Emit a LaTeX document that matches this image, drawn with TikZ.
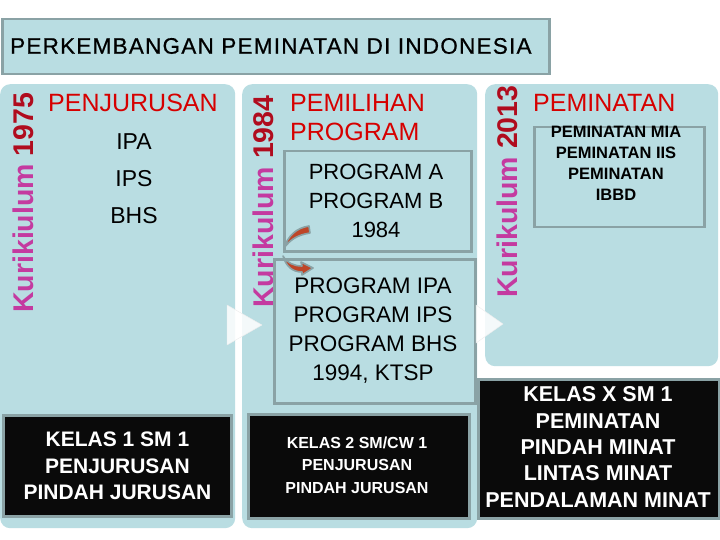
\documentclass[tikz,border=0pt]{standalone}
\usepackage{fontspec}
\setmainfont{Liberation Sans}
\usetikzlibrary{arrows.meta,shapes.geometric}
\definecolor{pblue}{RGB}{185,221,226}
\definecolor{bgray}{RGB}{138,162,165}
\definecolor{hred}{RGB}{214,0,0}
\definecolor{kmag}{RGB}{196,58,160}
\definecolor{kred}{RGB}{176,12,30}
\definecolor{arrred}{RGB}{190,70,40}
\tikzset{
  panel/.style={fill=pblue, draw=none, rounded corners=10pt, anchor=north west, inner sep=0pt},
  box/.style={fill=pblue, draw=bgray, line width=2.5pt, anchor=north west, inner sep=0pt},
  blk/.style={fill=black!96, draw=bgray, line width=3pt, anchor=north west, inner sep=0pt},
  head/.style={text=hred, font=\fontsize{25}{29}\selectfont, inner sep=0pt, align=left},
  body/.style={text=black, font=\fontsize{23}{29}\selectfont, inner sep=0pt, align=center},
  whitetxt/.style={text=white, font=\bfseries\fontsize{21}{26.5}\selectfont, inner sep=0pt, align=center},
  kur/.style={rotate=90, anchor=base west, inner sep=0pt, font=\bfseries\fontsize{28.5}{30}\selectfont},
  tri/.style={fill=white, fill opacity=0.85, draw=white!85!gray, line width=0.4pt},
  curv/.style={fill=arrred, draw=bgray, line width=1.6pt, line join=round}
}
\begin{document}
\begin{tikzpicture}[x=1pt,y=-1pt]
\useasboundingbox[fill=white] (0,0) rectangle (720,540);

% title
\node[box, minimum width=547, minimum height=55] (title) at (1,18) {};
\node[inner sep=0pt, font=\fontsize{22.5}{26}\selectfont\addfontfeatures{LetterSpace=5.5,FakeBold=0.6}, anchor=west] (titletxt) at (10,46) {PERKEMBANGAN PEMINATAN DI INDONESIA};

% panels
\node[panel, minimum width=235, minimum height=444] (p1) at (0,84) {};
\node[panel, minimum width=235, minimum height=444] (p2) at (242,84) {};
\node[panel, minimum width=233, minimum height=282] (p3) at (485,84) {};

% vertical labels
\node[kur] (k1) at (33,313) {\textcolor{kmag}{Kurikiulum }\textcolor{kred}{1975}};
\node[kur] (k2) at (273,308) {\textcolor{kmag}{Kurikulum }\textcolor{kred}{1984}};
\node[kur] (k3) at (517,298) {\textcolor{kmag}{Kurikulum }\textcolor{kred}{2013}};

% panel 1 content
\node[head, anchor=north west] (h1) at (48,94) {PENJURUSAN};
\node[body] (ipa) at (134,142) {IPA};
\node[body] (ips) at (134,179) {IPS};
\node[body] (bhs) at (134,216) {BHS};
\node[blk, minimum width=228, minimum height=101] (b1) at (2,414) {};
\node[whitetxt] (b1t) at (b1.center) {KELAS 1 SM 1\\PENJURUSAN\\PINDAH JURUSAN};

% panel 2 content
\node[head, anchor=north west] (h2) at (290,94) {PEMILIHAN\\PROGRAM};
\node[box, minimum width=187, minimum height=100] (bA) at (283,150) {};
\node[body, font=\fontsize{22}{29}\selectfont] (bAt) at (376,201) {PROGRAM A\\PROGRAM B\\1984};
\node[box, minimum width=201, minimum height=144] (bB) at (273,258) {};
\node[body, font=\fontsize{22.5}{29}\selectfont] (bBt) at (373,331) {PROGRAM IPA\\PROGRAM IPS\\PROGRAM BHS\\1994, KTSP};
\node[blk, minimum width=221, minimum height=104] (b2) at (247,413) {};
\node[whitetxt, font=\bfseries\fontsize{16}{22.5}\selectfont] (b2t) at (357,465) {KELAS 2 SM/CW 1\\PENJURUSAN\\PINDAH JURUSAN};

% curved arrows between box A and box B
\path[curv] (309,226) .. controls (296,228) and (288,236) .. (284,248)
            .. controls (290,240) and (297,235) .. (310,233) -- cycle;
\path[curv] (283,256) .. controls (287,263) and (294,266) .. (302,266)
            -- (301,262) -- (313,268) -- (302,275) -- (302,272)
            .. controls (292,272) and (286,266) .. (283,256) -- cycle;

% panel 3 content
\node[head, anchor=north west] (h3) at (533,94) {PEMINATAN};
\node[box, minimum width=170, minimum height=100] (bC) at (533,126) {};
\node[body, font=\bfseries\fontsize{16.5}{21}\selectfont] (bCt) at (616,163) {PEMINATAN MIA\\PEMINATAN IIS\\PEMINATAN\\IBBD};
\node[blk, minimum width=241, minimum height=139] (b3) at (477,378) {};
\node[whitetxt, font=\bfseries\fontsize{21.5}{26.3}\selectfont] (b3t) at (598,447) {KELAS X SM 1\\PEMINATAN\\PINDAH MINAT\\LINTAS MINAT\\PENDALAMAN MINAT};

% white triangles between panels
\draw[tri] (227,305) -- (262,325) -- (227,345) -- cycle;
\draw[tri] (476,305) -- (503,324) -- (476,343) -- cycle;
\end{tikzpicture}
\end{document}
